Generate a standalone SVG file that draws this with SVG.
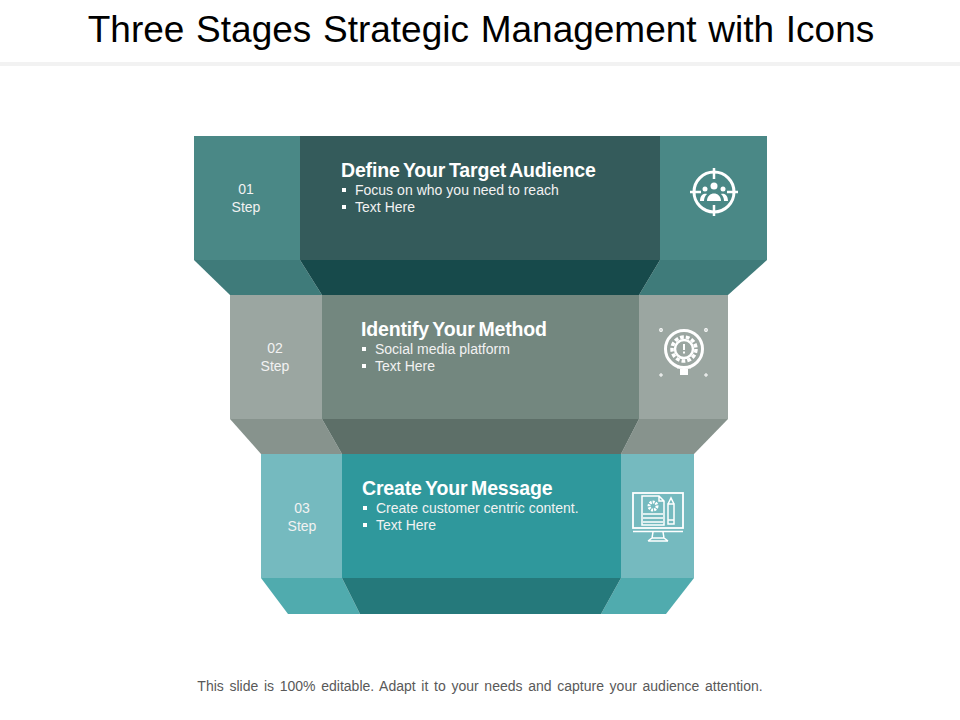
<svg xmlns="http://www.w3.org/2000/svg" width="960" height="720" viewBox="0 0 960 720">
<style>
text{font-family:"Liberation Sans",Arial,sans-serif;fill:#fff}
.t{font-size:37px;fill:#000;word-spacing:1.4px}
.f{font-size:14px;fill:#595959;word-spacing:1.800px}
.h{font-size:19.500px;font-weight:bold;letter-spacing:-.17px;word-spacing:-1.500px}
.b{font-size:14px;fill:#f2f2f2;word-spacing:.1px}
.s{font-size:14px;fill:#f2f2f2;text-anchor:middle}
.i{fill:none;stroke:#fff}
.w{fill:#fff}
</style>
<rect width="960" height="720" fill="#fff"/>
<g id="header">
<text class="t" x="481" y="42" text-anchor="middle">Three Stages Strategic Management with Icons</text>
<rect x="0" y="62" width="960" height="4" fill="#f2f2f2"/>
</g>
<g id="stage-1">
<rect x="194" y="136" width="106" height="124" fill="#4a8886"/>
<rect x="660" y="136" width="107" height="124" fill="#4a8886"/>
<rect x="300" y="136" width="360" height="124" fill="#345b5b"/>
<polygon points="194,260 300,260 322,295 230,295" fill="#3f7b7a"/>
<polygon points="660,260 767,260 728,295 639,295" fill="#3f7b7a"/>
<polygon points="300,260 660,260 639,295 322,295" fill="#174a4b"/>
<text class="s" x="246" y="194">01</text><text class="s" x="246" y="212">Step</text>
<text class="h" x="341" y="177">Define Your Target Audience</text>
<rect x="342" y="188" width="4" height="4" class="w"/><text class="b" x="355" y="195">Focus on who you need to reach</text>
<rect x="342" y="205" width="4" height="4" class="w"/><text class="b" x="355" y="212">Text Here</text>
<g id="icon-audience">
<circle class="i" cx="714" cy="192" r="20" stroke-width="3"/>
<path class="i" stroke-width="2.500" d="M714 168v11M714 205v11M690 192h11M727 192h11"/>
<circle class="w" cx="714" cy="186" r="3.500"/><circle class="w" cx="705" cy="189" r="2.500"/><circle class="w" cx="723" cy="189" r="2.500"/>
<path class="w" d="M707 201c0-10 14-10 14 0zM700 201c0-7 5-8 7-7-2 2-3 4-3 7zM728 201c0-7-5-8-7-7 2 2 3 4 3 7z"/>
</g>
</g>
<g id="stage-2">
<rect x="230" y="295" width="92" height="124" fill="#9ba6a1"/>
<rect x="639" y="295" width="89" height="124" fill="#9ba6a1"/>
<rect x="322" y="295" width="317" height="124" fill="#73877f"/>
<polygon points="230,419 322,419 342,454 261,454" fill="#87938d"/>
<polygon points="639,419 728,419 694,454 621,454" fill="#87938d"/>
<polygon points="322,419 639,419 621,454 342,454" fill="#5d6f68"/>
<text class="s" x="275" y="353">02</text><text class="s" x="275" y="371">Step</text>
<text class="h" x="361" y="336">Identify Your Method</text>
<rect x="362" y="347" width="4" height="4" class="w"/><text class="b" x="375" y="354">Social media platform</text>
<rect x="362" y="364" width="4" height="4" class="w"/><text class="b" x="375" y="371">Text Here</text>
<g id="icon-idea">
<circle class="i" cx="684" cy="349" r="18.500" stroke-width="3"/>
<circle class="i" cx="684" cy="349" r="12" stroke-width="3.500" stroke-dasharray="3.800 2"/>
<circle class="i" cx="684" cy="349" r="9" stroke-width="2.500"/>
<rect x="683" y="344" width="2" height="6" class="w"/><rect x="683" y="351.500" width="2" height="2" class="w"/>
<path class="i" stroke-width="2" d="M677 367.500h14"/><rect x="680" y="369" width="8" height="6" class="w"/>
<circle class="i" cx="661" cy="330" r="1.300" stroke-width="1.200"/><circle class="i" cx="706" cy="330" r="1.300" stroke-width="1.200"/>
<path class="i" stroke-width="1" d="M659 375h4M661 373v4M704 375h4M706 373v4"/>
</g>
</g>
<g id="stage-3">
<rect x="261" y="454" width="81" height="124" fill="#75babf"/>
<rect x="621" y="454" width="73" height="124" fill="#75babf"/>
<rect x="342" y="454" width="279" height="124" fill="#2f989c"/>
<polygon points="261,578 342,578 360,614 288,614" fill="#50abae"/>
<polygon points="621,578 694,578 666,614 601,614" fill="#50abae"/>
<polygon points="342,578 621,578 601,614 360,614" fill="#25797b"/>
<text class="s" x="302" y="513">03</text><text class="s" x="302" y="531">Step</text>
<text class="h" x="362" y="495">Create Your Message</text>
<rect x="363" y="506" width="4" height="4" class="w"/><text class="b" x="376" y="513">Create customer centric content.</text>
<rect x="363" y="523" width="4" height="4" class="w"/><text class="b" x="376" y="530">Text Here</text>
<g id="icon-monitor">
<rect class="i" x="633" y="493" width="50" height="35" stroke-width="1.800"/>
<path class="i" stroke-width="1.500" d="M633 531.500h50M653 532l-1 6M663 532l1 6M648 541h20M648 541l4-3h12l4 3"/>
<path class="i" stroke-width="1.500" d="M642 525v-29h17l5 5v24zM659 496v5h5"/>
<circle class="i" cx="653" cy="506" r="4" stroke-width="3" stroke-dasharray="2 1"/>
<path class="i" stroke-width="1.300" d="M643 514h20M643 518h20M643 522h20"/>
<path class="i" stroke-width="1.500" d="M668 504v20h6v-20zM668 504l3-6 3 6M668 520h6"/>
</g>
</g>
<g id="footer"><text class="f" x="480" y="691" text-anchor="middle">This slide is 100% editable. Adapt it to your needs and capture your audience attention.</text></g>
</svg>
